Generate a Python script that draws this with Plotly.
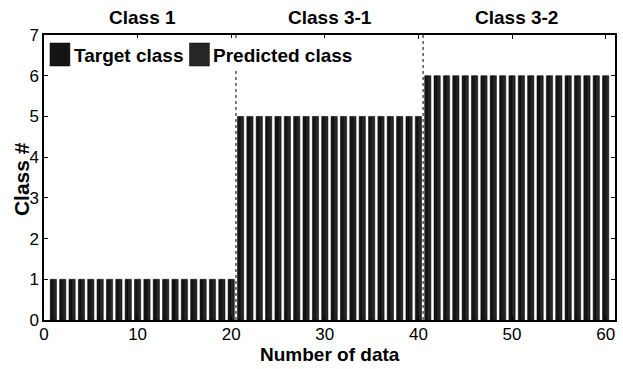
import plotly.graph_objects as go

# Sample index (1..60) and class numbers for target and predicted labels
data_index = list(range(1, 61))
target_class = [1, 1, 1, 1, 1, 1, 1, 1, 1, 1, 1, 1, 1, 1, 1, 1, 1, 1, 1, 1,
                5, 5, 5, 5, 5, 5, 5, 5, 5, 5, 5, 5, 5, 5, 5, 5, 5, 5, 5, 5,
                6, 6, 6, 6, 6, 6, 6, 6, 6, 6, 6, 6, 6, 6, 6, 6, 6, 6, 6, 6]
predicted_class = [1, 1, 1, 1, 1, 1, 1, 1, 1, 1, 1, 1, 1, 1, 1, 1, 1, 1, 1, 1,
                   5, 5, 5, 5, 5, 5, 5, 5, 5, 5, 5, 5, 5, 5, 5, 5, 5, 5, 5, 5,
                   6, 6, 6, 6, 6, 6, 6, 6, 6, 6, 6, 6, 6, 6, 6, 6, 6, 6, 6, 6]

group_names = ["Class 1", "Class 3-1", "Class 3-2"]
group_centers = [10.5, 30.5, 50.5]
group_bounds = [20.5, 40.5]

x_ticks = [0, 10, 20, 30, 40, 50, 60]
y_ticks = [0, 1, 2, 3, 4, 5, 6, 7]

FONT = "Liberation Sans, Arial, Helvetica, sans-serif"
TARGET_COLOR = "#141414"
PRED_COLOR = "#262626"

# plot area in pixels (for placing the hand-drawn legend and titles)
L, R, T, B = 44, 617, 35, 320
PW, PH = R - L, B - T


def px(x):
    return (x - L) / PW


def py(y):
    return (B - y) / PH


fig = go.Figure()
fig.add_trace(go.Bar(x=data_index, y=target_class, name="Target class",
                     marker=dict(color=TARGET_COLOR, line=dict(color="black", width=0.5)),
                     showlegend=False))
fig.add_trace(go.Bar(x=data_index, y=predicted_class, name="Predicted class",
                     marker=dict(color=PRED_COLOR, line=dict(color="black", width=0.5)),
                     showlegend=False))

# Dotted separators between classes
for xb in group_bounds:
    fig.add_shape(type="line", xref="x", yref="y", x0=xb, x1=xb, y0=0, y1=7,
                  line=dict(color="#555555", width=1.5, dash="dot"), layer="above")

# Legend box (white background, large square swatches)
fig.add_shape(type="rect", xref="paper", yref="paper",
              x0=px(45), x1=px(362), y0=py(71), y1=py(38),
              fillcolor="white", line=dict(width=0), layer="above")
legend_items = [("Target class", TARGET_COLOR, 50, 72),
                ("Predicted class", PRED_COLOR, 190, 212)]
for label, color, sx, tx in legend_items:
    fig.add_shape(type="rect", xref="paper", yref="paper",
                  x0=px(sx), x1=px(sx + 20), y0=py(66), y1=py(43),
                  fillcolor=color, line=dict(color="black", width=0.5), layer="above")
    fig.add_annotation(xref="paper", yref="paper", x=px(tx), y=py(55),
                       text=f"<b>{label}</b>", showarrow=False, xanchor="left", yanchor="middle",
                       font=dict(family=FONT, size=19, color="black"))

for name, xc in zip(group_names, group_centers):
    fig.add_annotation(xref="x", yref="paper", x=xc, y=py(17),
                       text=f"<b>{name}</b>", showarrow=False, yanchor="middle",
                       font=dict(family=FONT, size=19, color="black"))

# Axis titles
fig.add_annotation(xref="paper", yref="paper", x=0.5, y=py(354),
                   text="<b>Number of data</b>", showarrow=False, yanchor="middle",
                   font=dict(family=FONT, size=19, color="black"))
fig.add_annotation(xref="paper", yref="paper", x=px(21), y=py(179),
                   text="<b>Class #</b>", showarrow=False, textangle=-90,
                   xanchor="center", yanchor="middle",
                   font=dict(family=FONT, size=21, color="black"))

axis_common = dict(showline=True, linecolor="black", linewidth=1.5, mirror="ticks",
                   ticks="inside", ticklen=4, tickcolor="black", showgrid=False,
                   zeroline=False, tickfont=dict(family=FONT, size=17, color="black"))

fig.update_layout(
    width=623, height=369,
    margin=dict(l=L, r=623 - R, t=T, b=369 - B),
    paper_bgcolor="white", plot_bgcolor="white",
    barmode="group", bargap=0.33, bargroupgap=0,
    xaxis=dict(range=[0, 61], tickvals=x_ticks, ticklabelstandoff=-2, **axis_common),
    yaxis=dict(range=[0, 7], tickvals=y_ticks, ticklabelstandoff=0, **axis_common),
)

fig.write_html("out.html")
